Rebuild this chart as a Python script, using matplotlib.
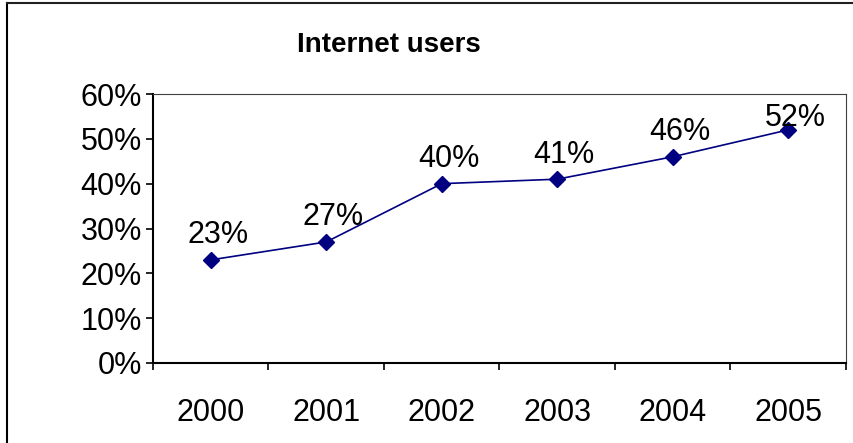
import matplotlib
matplotlib.use('Agg')
import matplotlib.pyplot as plt
from matplotlib.lines import Line2D

plt.rcParams['font.family'] = ['Liberation Sans', 'DejaVu Sans']

years = ['2000', '2001', '2002', '2003', '2004', '2005']
users = [23, 27, 40, 41, 46, 52]
yticks = [0, 10, 20, 30, 40, 50, 60]
# label lift above each point (points); last one is squeezed under the top edge
label_lift = [12, 12, 12, 12, 12, 3]

fig = plt.figure(figsize=(8.54, 4.43), dpi=100)
ax = fig.add_axes([153/854, 1 - 363/443, (846 - 153)/854, (363 - 94)/443])

x = list(range(len(years)))
ax.plot(x, users, color='#000080', lw=1.2, marker='D', ms=8.5, mfc='#000080', mec='#000080')
for xi, v, lift in zip(x, users, label_lift):
    ax.annotate(f'{v}%', (xi, v), xytext=(5, lift), textcoords='offset points',
                ha='center', va='baseline', fontsize=22)

ax.set_xlim(-0.5, len(years) - 0.5)
ax.set_ylim(0, 60)
ax.set_yticks(yticks)
ax.set_yticklabels([f'{t}%' for t in yticks], fontsize=22)
ax.set_xticks(x)
ax.set_xticklabels(years, fontsize=22)
ax.set_xticks([i - 0.5 for i in range(len(years) + 1)], minor=True)
ax.tick_params(axis='x', which='major', length=0, pad=25)
ax.tick_params(axis='x', which='minor', length=5, width=1.2, direction='out')
ax.tick_params(axis='y', length=5, width=1.2, direction='out', pad=3)

for s in ['left', 'bottom']:
    ax.spines[s].set_linewidth(1.5)
    ax.spines[s].set_color('black')
for s in ['top', 'right']:
    ax.spines[s].set_linewidth(0.8)
    ax.spines[s].set_color('#404040')

fig.text(297/854, 1 - 52/443, 'Internet users', fontsize=20, fontweight='bold',
         ha='left', va='baseline')

# outer chart border (left and top edges visible)
fig.add_artist(Line2D([7/854, 7/854], [0, 1 - 3/443], color='black', lw=1.5))
fig.add_artist(Line2D([7/854, 1], [1 - 3/443, 1 - 3/443], color='#202020', lw=1.5))

fig.savefig('out.png', dpi=100)
